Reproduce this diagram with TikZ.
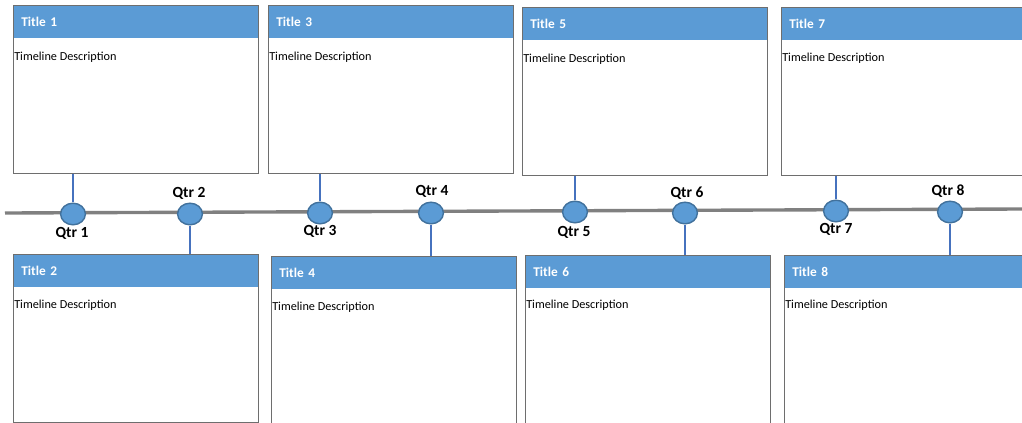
\documentclass[tikz,border=0pt]{standalone}
\usepackage{fontspec}
\setmainfont{Carlito}
\usetikzlibrary{shapes.geometric}

\definecolor{hdrblue}{RGB}{91,155,213}
\definecolor{ringblue}{RGB}{65,113,156}
\definecolor{stemblue}{RGB}{70,114,190}
\definecolor{boxline}{RGB}{110,110,110}
\definecolor{lineGrey}{RGB}{128,128,128}

\tikzset{
  descbox/.style={draw=boxline, line width=0.6pt, minimum width=6.125cm, minimum height=4.2cm, inner sep=0pt, anchor=north west},
  titlebar/.style={fill=hdrblue, minimum height=0.825cm, text width=5.725cm, inner xsep=0.2cm, inner ysep=0pt, align=left, anchor=north west, text=white, font=\bfseries\fontsize{9.5}{11}\selectfont},
  desctext/.style={anchor=west, inner sep=0pt, font=\fontsize{8.7}{10}\selectfont},
  qdot/.style={ellipse, draw=ringblue, line width=1pt, fill=hdrblue, minimum width=0.62cm, minimum height=0.54cm, inner sep=0pt},
  qlabel/.style={inner sep=0pt, font=\bfseries\fontsize{11}{12}\selectfont},
  stem/.style={stemblue, line width=1.8pt}
}

\begin{document}
\begin{tikzpicture}[x=0.025cm, y=-0.025cm]

            \useasboundingbox (0,0) rectangle (1022,422);
            \clip (0,0) rectangle (1022,422);

            % title bars
            \node[titlebar] (h1) at (13,5) {Title 1};
            \node[titlebar] (h3) at (268,5) {Title 3};
            \node[titlebar] (h5) at (522,7) {Title 5};
            \node[titlebar] (h7) at (781,7) {Title 7};
            \node[titlebar] (h2) at (13,254) {Title 2};
            \node[titlebar] (h4) at (271,256) {Title 4};
            \node[titlebar] (h6) at (525,255) {Title 6};
            \node[titlebar] (h8) at (784,255) {Title 8};

            % boxes
            \node[descbox] (b1) at (13,5) {};
            \node[descbox] (b3) at (268,5) {};
            \node[descbox] (b5) at (522,7) {};
            \node[descbox] (b7) at (781,7) {};
            \node[descbox] (b2) at (13,254) {};
            \node[descbox] (b4) at (271,256) {};
            \node[descbox] (b6) at (525,255) {};
            \node[descbox] (b8) at (784,255) {};

            \node[desctext] (d1) at (14,57) {Timeline Description};
            \node[desctext] (d3) at (269,57) {Timeline Description};
            \node[desctext] (d5) at (523,59) {Timeline Description};
            \node[desctext] (d7) at (782,58) {Timeline Description};
            \node[desctext] (d2) at (14,305) {Timeline Description};
            \node[desctext] (d4) at (272,307) {Timeline Description};
            \node[desctext] (d6) at (526,305) {Timeline Description};
            \node[desctext] (d8) at (785,305) {Timeline Description};

            % timeline
            \coordinate (tstart) at (5,213);
            \coordinate (tend) at (1022,209);
            \draw[lineGrey, line width=2.4pt] (tstart) -- (tend);

            % quarters
            \node[qdot] (q1) at (73,214) {};
            \node[qdot] (q2) at (190,214) {};
            \node[qdot] (q3) at (320,213) {};
            \node[qdot] (q4) at (431,213) {};
            \node[qdot] (q5) at (575,212) {};
            \node[qdot] (q6) at (685,213) {};
            \node[qdot] (q7) at (836,211) {};
            \node[qdot] (q8) at (950,212) {};

            \draw[stem] (q1.north) -- (q1.north |- b1.south);
            \draw[stem] (q3.north) -- (q3.north |- b3.south);
            \draw[stem] (q5.north) -- (q5.north |- b5.south);
            \draw[stem] (q7.north) -- (q7.north |- b7.south);
            \draw[stem] (q2.south) -- (q2.south |- b2.north);
            \draw[stem] (q4.south) -- (q4.south |- b4.north);
            \draw[stem] (q6.south) -- (q6.south |- b6.north);
            \draw[stem] (q8.south) -- (q8.south |- b8.north);

            \node[qlabel] (l1) at (72,233) {Qtr 1};
            \node[qlabel] (l2) at (189,193) {Qtr 2};
            \node[qlabel] (l3) at (320,231) {Qtr 3};
            \node[qlabel] (l4) at (432,191) {Qtr 4};
            \node[qlabel] (l5) at (574,232) {Qtr 5};
            \node[qlabel] (l6) at (687,193) {Qtr 6};
            \node[qlabel] (l7) at (836,229) {Qtr 7};
            \node[qlabel] (l8) at (948,191) {Qtr 8};

        \end{tikzpicture}
\end{document}
